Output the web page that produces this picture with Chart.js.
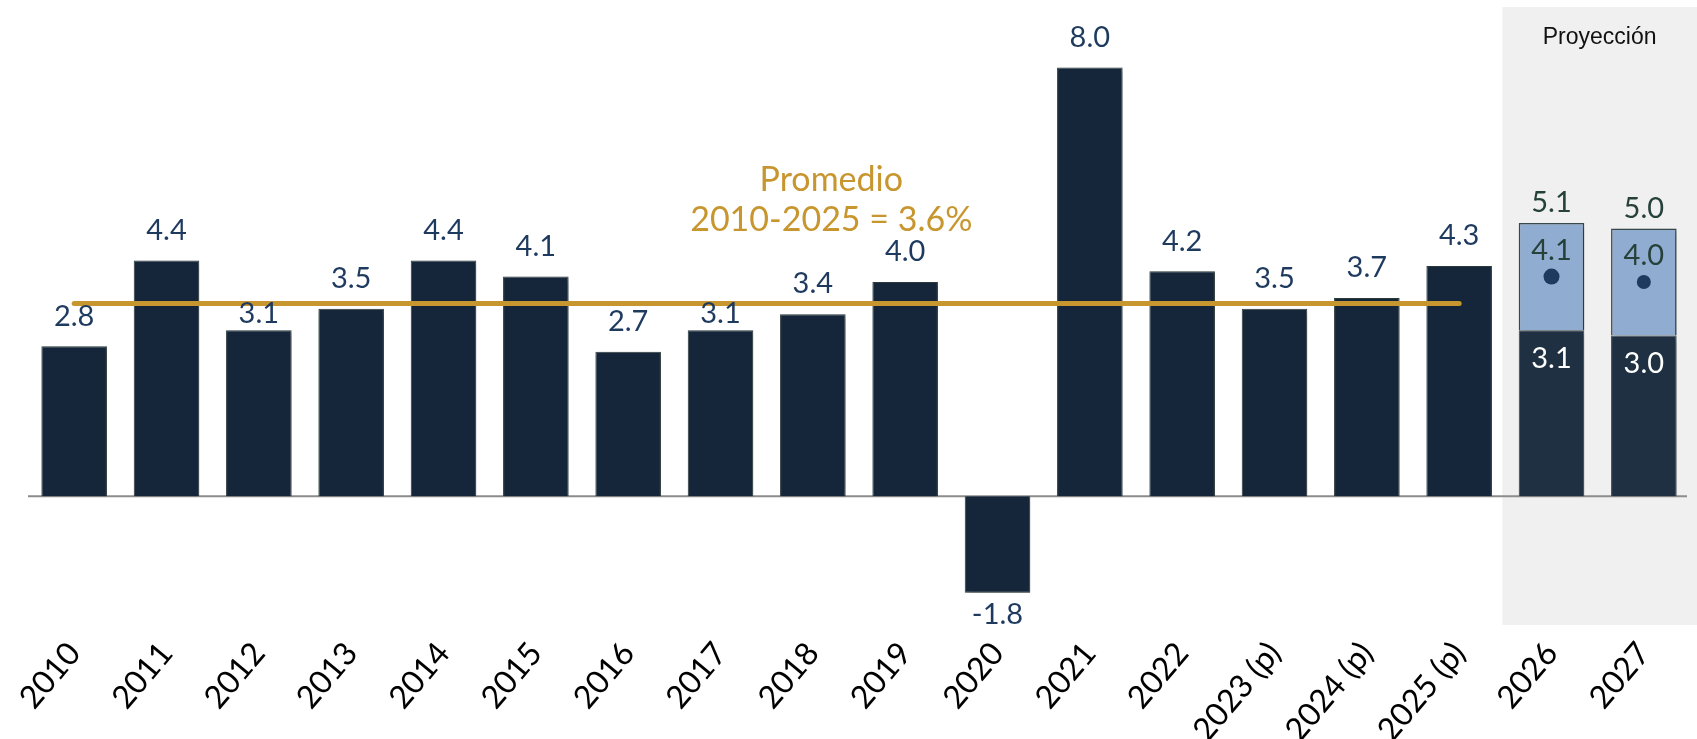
<!DOCTYPE html>
<html>
<head>
<meta charset="utf-8">
<script src="https://cdn.jsdelivr.net/npm/chart.js@4.4.1/dist/chart.umd.min.js"></script>
<style>
  html, body { margin: 0; padding: 0; background: #fff; }
  #wrap { width: 1697px; height: 739px; }
</style>
</head>
<body>
<div id="wrap"><canvas id="myChart" width="1697" height="739"></canvas></div>
<script>
    // categories and values
    var categories = ['2010', '2011', '2012', '2013', '2014', '2015', '2016', '2017', '2018', '2019',
        '2020', '2021', '2022', '2023 (p)', '2024 (p)', '2025 (p)', '2026', '2027'];
    var growth = [2.8, 4.4, 3.1, 3.5, 4.4, 4.1, 2.7, 3.1, 3.4, 4.0, -1.8, 8.0, 4.2, 3.5, 3.7, 4.3];
    var projBase = [3.1, 3.0];
    var projTotal = [5.1, 5.0];
    var projCentral = [4.1, 4.0];
    var average = 3.6;
    var averageLabel = ['Promedio', '2010-2025 = 3.6%'];
    var projectionLabel = 'Proyección';

    var nHist = growth.length;
    var pad = function (arr, before) {
        var out = [];
        for (var i = 0; i < before; i++) out.push(null);
        return out.concat(arr);
    };
    var histData = growth.concat(projBase.map(function () { return null; }));
    var baseData = pad(projBase, nHist);
    var upperData = pad(projTotal.map(function (t, i) { return +(t - projBase[i]).toFixed(1); }), nHist);
    var dotData = pad(projCentral, nHist);
    var avgData = growth.map(function () { return average; }).concat(projBase.map(function () { return null; }));

    // grey box behind the projection years
    var projectionBox = {
        id: 'projectionBox',
        beforeDraw: function (chart) {
            var ctx = chart.ctx, x = chart.scales.x;
            var left = x.getPixelForValue(nHist - 0.5) - 3;
            ctx.save();
            ctx.fillStyle = '#f0f0f0';
            ctx.fillRect(left, 7, chart.width - left, chart.chartArea.bottom - 7);
            ctx.fillStyle = '#111';
            ctx.font = '23px "Liberation Sans", Arial, sans-serif';
            ctx.textAlign = 'center';
            ctx.textBaseline = 'middle';
            ctx.fillText(projectionLabel, (left + chart.width) / 2, 38);
            ctx.restore();
        }
    };

    // zero line
    var zeroLine = {
        id: 'zeroLine',
        beforeDatasetsDraw: function (chart) {
            var ctx = chart.ctx, a = chart.chartArea;
            var y0 = chart.scales.y.getPixelForValue(0);
            ctx.save();
            ctx.strokeStyle = '#8c8c8c';
            ctx.lineWidth = 2;
            ctx.beginPath();
            ctx.moveTo(a.left, y0);
            ctx.lineTo(a.right - 3, y0);
            ctx.stroke();
            ctx.restore();
        }
    };

    // soft shadow on the bars
    var barShadow = {
        id: 'barShadow',
        beforeDatasetDraw: function (chart, args) {
            if (args.meta.type !== 'bar') return;
            var ctx = chart.ctx;
            ctx.save();
            ctx.shadowColor = 'rgba(0,0,0,0.28)';
            ctx.shadowBlur = 5;
            ctx.shadowOffsetX = 2;
            ctx.shadowOffsetY = 2;
        },
        afterDatasetDraw: function (chart, args) {
            if (args.meta.type !== 'bar') return;
            chart.ctx.restore();
        }
    };

    // value labels
    var valueLabels = {
        id: 'valueLabels',
        afterDatasetsDraw: function (chart) {
            var ctx = chart.ctx, x = chart.scales.x, y = chart.scales.y;
            var lineY = y.getPixelForValue(average);
            ctx.save();
            ctx.font = '29px Lato, sans-serif';
            ctx.textAlign = 'center';
            ctx.textBaseline = 'middle';
            ctx.fillStyle = '#1e3a5f';
            growth.forEach(function (v, i) {
                var px = x.getPixelForValue(i), py;
                if (v < 0) {
                    py = y.getPixelForValue(v) + 22;
                } else {
                    py = y.getPixelForValue(v) - 30;
                    // keep clear of the average line
                    if (py > lineY - 12 && py < lineY + 10) py = lineY + 10;
                }
                ctx.fillText(v.toFixed(1), px, py);
            });
            projTotal.forEach(function (t, j) {
                var i = nHist + j, px = x.getPixelForValue(i);
                ctx.fillStyle = '#26413a';
                ctx.fillText(t.toFixed(1), px, y.getPixelForValue(t) - 20);
                ctx.fillText(projCentral[j].toFixed(1), px, y.getPixelForValue(projCentral[j]) - 26);
                ctx.fillStyle = '#ffffff';
                ctx.fillText(projBase[j].toFixed(1), px, y.getPixelForValue(projBase[j]) + 28);
            });
            // average annotation
            ctx.fillStyle = '#c8962f';
            ctx.font = '34px Lato, sans-serif';
            var ax = x.getPixelForValue(8.2);
            ctx.fillText(averageLabel[0], ax, lineY - 123);
            ctx.fillText(averageLabel[1], ax, lineY - 83);
            ctx.restore();
        }
    };

    var ctx = document.getElementById('myChart').getContext('2d');
    var chart = new Chart(ctx, {
        type: 'bar',
        data: {
            labels: categories,
            datasets: [{
                type: 'line',
                data: avgData,
                stack: 'avg',
                borderColor: '#c8962e',
                borderWidth: 5,
                pointRadius: 0,
                borderCapStyle: 'round',
                order: 0
            }, {
                type: 'line',
                data: dotData,
                stack: 'dot',
                showLine: false,
                pointRadius: [0, 0, 0, 0, 0, 0, 0, 0, 0, 0, 0, 0, 0, 0, 0, 0, 8, 7],
                pointBackgroundColor: '#1e3a5f',
                pointBorderWidth: 0,
                order: 0
            }, {
                data: histData,
                stack: 'a',
                backgroundColor: '#15263b',
                borderColor: '#2c3d3c',
                borderWidth: 1,
                order: 1
            }, {
                data: baseData,
                stack: 'a',
                backgroundColor: '#1f3042',
                borderColor: '#3c4b4b',
                borderWidth: 1,
                order: 1
            }, {
                data: upperData,
                stack: 'a',
                backgroundColor: '#90acd0',
                borderColor: '#3a4a4a',
                borderWidth: 1.5,
                order: 1
            }]
        },
        options: {
            responsive: false,
            animation: false,
            layout: { padding: { left: 28, right: 1, top: 14, bottom: 0 } },
            datasets: { bar: { barPercentage: 0.71, categoryPercentage: 1 } },
            plugins: { legend: { display: false }, tooltip: { enabled: false } },
            scales: {
                x: {
                    stacked: true,
                    grid: { display: false },
                    border: { display: false },
                    ticks: {
                        color: '#000',
                        font: { family: 'Lato', size: 32 },
                        maxRotation: 50,
                        minRotation: 50,
                        padding: 2,
                        autoSkip: false
                    },
                    afterFit: function (scale) { scale.height = 114; }
                },
                y: {
                    stacked: true,
                    display: false,
                    min: -2.4,
                    max: 9.0
                }
            }
        },
        plugins: [projectionBox, zeroLine, barShadow, valueLabels]
    });
</script>
</body>
</html>
